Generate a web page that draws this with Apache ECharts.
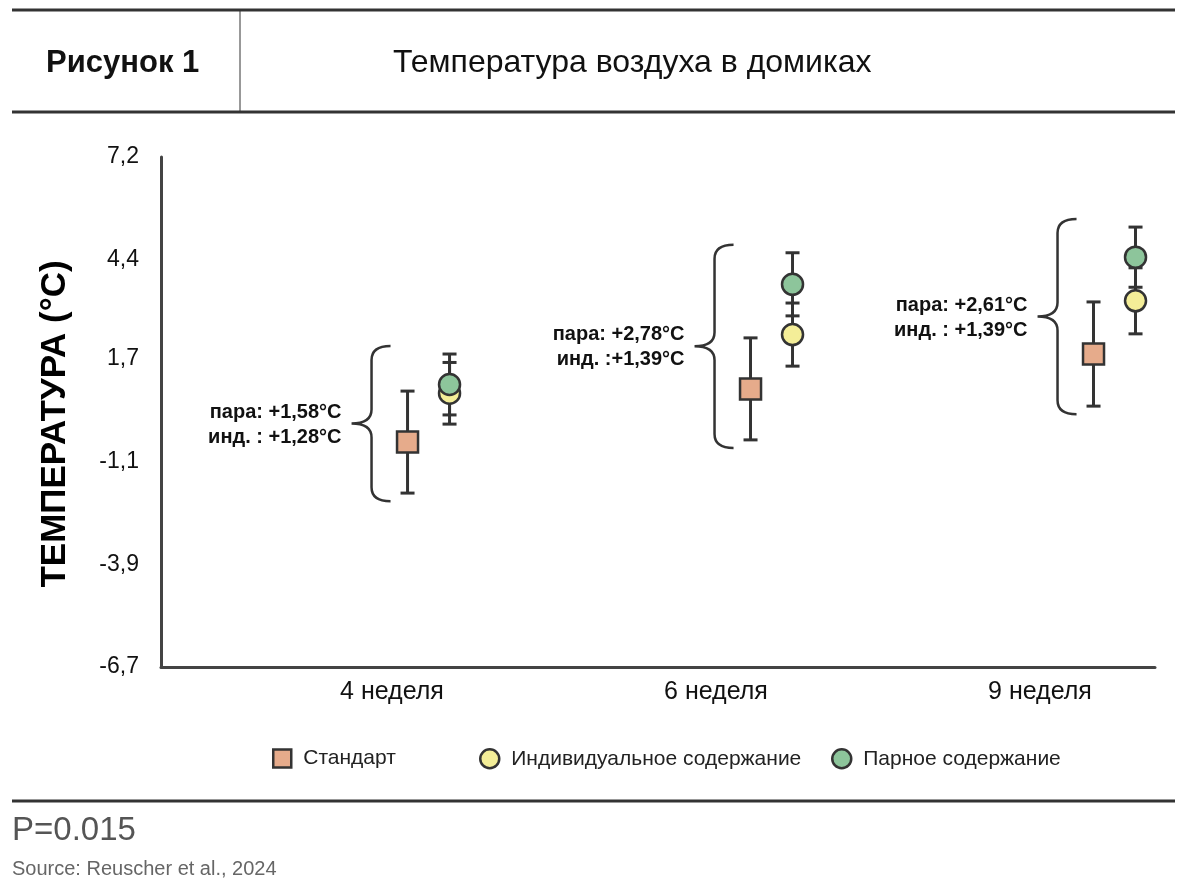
<!DOCTYPE html>
<html><head><meta charset="utf-8">
<script src="https://cdn.jsdelivr.net/npm/echarts@6/dist/echarts.min.js"></script>
<style>html,body{margin:0;padding:0;background:#fff}#chart{width:1200px;height:892px}</style>
</head><body><div id="chart"></div>
<script>
// ---- data ----
const categories = ['4 неделя', '6 неделя', '9 неделя'];
const yTicks = [-6.7, -3.9, -1.1, 1.7, 4.4, 7.2];
const standardMean = [-0.57, 0.88, 1.83];
const standardErr = [1.39, 1.39, 1.42];
const individualMean = [0.76, 2.36, 3.28];
const individualErr = [0.84, 0.86, 0.90];
const pairMean = [1.00, 3.73, 4.47];
const pairErr = [0.83, 0.86, 0.82];
const notePair = ['пара: +1,58°C', 'пара: +2,78°C', 'пара: +2,61°C'];
const noteInd = ['инд. : +1,28°C', 'инд. :+1,39°C', 'инд. : +1,39°C'];
const seriesNames = ['Стандарт', 'Индивидуальное содержание', 'Парное содержание'];

// ---- styles ----
const FONT = "'Liberation Sans', Arial, Helvetica, sans-serif";
const DARK = '#333333';
const C_STD = '#E6AB8B';
const C_IND = '#F4EE98';
const C_PAIR = '#8DC59B';
const DX = 21;

const chart = echarts.init(document.getElementById('chart'), null, {renderer: 'canvas'});

function pointSeries(name, means, errs, shape, color, dx, z2) {
  return {
    type: 'custom', name: name, xAxisIndex: 1, yAxisIndex: 0,
    itemStyle: {color: color, borderColor: DARK, borderWidth: 2.5},
    data: means.map((m, i) => [i, m, errs[i]]),
    renderItem: function (params, api) {
      const i = api.value(0), m = api.value(1), e = api.value(2);
      const c = api.coord([i, m]);
      const t = api.coord([i, m + e]);
      const b = api.coord([i, m - e]);
      const x = c[0] + dx;
      const cap = 7;
      const ls = {stroke: DARK, lineWidth: 3};
      const ch = [
        {type: 'line', shape: {x1: x, y1: t[1], x2: x, y2: b[1]}, style: ls, z2: 1},
        {type: 'line', shape: {x1: x - cap, y1: t[1], x2: x + cap, y2: t[1]}, style: ls, z2: 1},
        {type: 'line', shape: {x1: x - cap, y1: b[1], x2: x + cap, y2: b[1]}, style: ls, z2: 1}
      ];
      if (shape === 'rect') {
        ch.push({type: 'rect', shape: {x: x - 10.5, y: c[1] - 10.5, width: 21, height: 21},
          style: {fill: color, stroke: DARK, lineWidth: 2.5}, z2: z2});
      } else {
        ch.push({type: 'circle', shape: {cx: x, cy: c[1], r: 10.5},
          style: {fill: color, stroke: DARK, lineWidth: 2.5}, z2: z2});
      }
      return {type: 'group', children: ch};
    }
  };
}

const PAD = 0.22;
const braceData = categories.map((c, i) => {
  const lows = [standardMean[i] - standardErr[i], individualMean[i] - individualErr[i], pairMean[i] - pairErr[i]];
  const highs = [standardMean[i] + standardErr[i], individualMean[i] + individualErr[i], pairMean[i] + pairErr[i]];
  return [i, Math.min.apply(null, lows) - PAD, Math.max.apply(null, highs) + PAD];
});

const braceSeries = {
  type: 'custom', name: 'brace', xAxisIndex: 1, yAxisIndex: 0, silent: true,
  data: braceData,
  renderItem: function (params, api) {
    const i = api.value(0);
    const top = api.coord([i, api.value(2)]);
    const bot = api.coord([i, api.value(1)]);
    const cx = top[0];
    const spineX = cx - DX - 36, endX = cx - DX - 17, tipX = cx - DX - 56;
    const y1 = top[1], y2 = bot[1], ym = (y1 + y2) / 2;
    const r = 14;
    const d = 'M' + endX + ' ' + y1 +
      ' Q' + spineX + ' ' + y1 + ' ' + spineX + ' ' + (y1 + r) +
      ' L' + spineX + ' ' + (ym - r) +
      ' Q' + spineX + ' ' + ym + ' ' + tipX + ' ' + ym +
      ' Q' + spineX + ' ' + ym + ' ' + spineX + ' ' + (ym + r) +
      ' L' + spineX + ' ' + (y2 - r) +
      ' Q' + spineX + ' ' + y2 + ' ' + endX + ' ' + y2;
    return {type: 'group', children: [
      {type: 'path', shape: {pathData: d}, style: {fill: null, stroke: DARK, lineWidth: 2.5}},
      {type: 'text', style: {text: notePair[i] + '\n' + noteInd[i], x: tipX - 10, y: ym + 1,
        align: 'right', verticalAlign: 'middle', fill: '#111', fontFamily: FONT,
        fontSize: 20, fontWeight: 'bold', lineHeight: 25}}
    ]};
  }
};

const legendText = {fontSize: 21, color: '#222', padding: [0, 0, 0, 7], fontFamily: FONT};

const option = {
  backgroundColor: '#fff',
  animation: false,
  textStyle: {fontFamily: FONT},
  grid: {left: 161, right: 45, top: 157, bottom: 225, containLabel: false},
  xAxis: [
    {
      type: 'value', min: -0.713, max: 2.355,
      axisLine: {show: true, onZero: false, lineStyle: {color: '#444', width: 3}},
      axisTick: {show: false}, splitLine: {show: false},
      axisLabel: {customValues: [0, 1, 2], formatter: v => categories[Math.round(v)],
        fontSize: 25, color: '#111', margin: 13, fontFamily: FONT}
    },
    {type: 'value', min: -0.78, max: 2.118, show: false, axisLine: {onZero: false}}
  ],
  yAxis: {
    type: 'value', min: -6.7, max: 7.2,
    name: 'ТЕМПЕРАТУРА (°C)', nameLocation: 'middle', nameRotate: 90, nameGap: 88,
    nameTextStyle: {fontSize: 35, fontWeight: 'bold', color: '#000', fontFamily: FONT, padding: [0, 24, 0, 0]},
    axisLine: {show: true, onZero: false, lineStyle: {color: '#444', width: 3}},
    axisTick: {show: false}, splitLine: {show: false},
    axisLabel: {customValues: yTicks, formatter: v => String(v).replace('.', ','),
      fontSize: 23, color: '#111', margin: 22, fontFamily: FONT}
  },
  legend: [
    {left: 272, top: 748, padding: 0, itemWidth: 18, itemHeight: 18, textStyle: legendText,
      data: [{name: seriesNames[0], icon: 'rect', itemStyle: {color: C_STD, borderColor: DARK, borderWidth: 2.5}}]},
    {left: 479, top: 748, padding: 0, itemWidth: 19, itemHeight: 19, textStyle: legendText,
      data: [{name: seriesNames[1], icon: 'circle', itemStyle: {color: C_IND, borderColor: DARK, borderWidth: 2.5}}]},
    {left: 831, top: 748, padding: 0, itemWidth: 19, itemHeight: 19, textStyle: legendText,
      data: [{name: seriesNames[2], icon: 'circle', itemStyle: {color: C_PAIR, borderColor: DARK, borderWidth: 2.5}}]}
  ],
  graphic: [
    {type: 'line', shape: {x1: 12, y1: 10, x2: 1175, y2: 10}, style: {stroke: '#333', lineWidth: 3}},
    {type: 'line', shape: {x1: 12, y1: 112, x2: 1175, y2: 112}, style: {stroke: '#333', lineWidth: 3}},
    {type: 'line', shape: {x1: 240, y1: 10, x2: 240, y2: 112}, style: {stroke: '#333', lineWidth: 1}},
    {type: 'text', x: 46, y: 63, style: {text: 'Рисунок 1', fontSize: 31, fontWeight: 'bold', fill: '#111',
      fontFamily: FONT, verticalAlign: 'middle'}},
    {type: 'text', x: 393, y: 63, style: {text: 'Температура воздуха в домиках', fontSize: 32, fill: '#111',
      fontFamily: FONT, verticalAlign: 'middle'}},
    {type: 'line', shape: {x1: 12, y1: 801, x2: 1175, y2: 801}, style: {stroke: '#333', lineWidth: 3}},
    {type: 'text', x: 12, y: 831, style: {text: 'P=0.015', fontSize: 33, fill: '#555', fontFamily: FONT, verticalAlign: 'middle'}},
    {type: 'text', x: 12, y: 869, style: {text: 'Source: Reuscher et al., 2024', fontSize: 20, fill: '#666', fontFamily: FONT, verticalAlign: 'middle'}}
  ],
  series: [
    braceSeries,
    pointSeries(seriesNames[0], standardMean, standardErr, 'rect', C_STD, -DX, 10),
    pointSeries(seriesNames[1], individualMean, individualErr, 'circle', C_IND, DX, 11),
    pointSeries(seriesNames[2], pairMean, pairErr, 'circle', C_PAIR, DX, 12)
  ]
};
chart.setOption(option);
</script>
</body></html>
